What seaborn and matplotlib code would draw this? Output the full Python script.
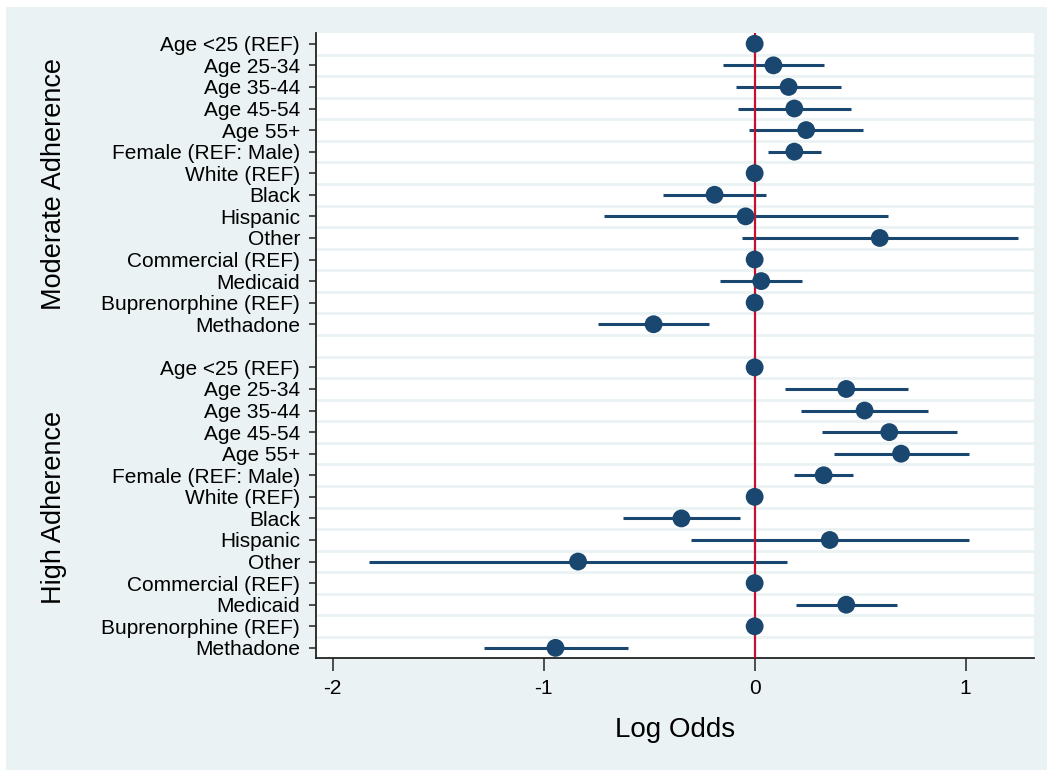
import numpy as np
import pandas as pd
import matplotlib
matplotlib.use("Agg")
import matplotlib.pyplot as plt
import matplotlib.transforms as mtransforms
from matplotlib.patches import Rectangle
import seaborn as sns

# Covariate labels (same for both outcome models)
labels = ["Age <25 (REF)", "Age 25-34", "Age 35-44", "Age 45-54", "Age 55+",
          "Female (REF: Male)", "White (REF)", "Black", "Hispanic", "Other",
          "Commercial (REF)", "Medicaid", "Buprenorphine (REF)", "Methadone"]

groups = ["Moderate Adherence", "High Adherence"]

# Log-odds estimates and 95% CI bounds
moderate_coef = [0, 0.089, 0.161, 0.188, 0.244, 0.188, 0, -0.190, -0.043, 0.593, 0, 0.031, 0, -0.479]
moderate_lo = [0, -0.148, -0.087, -0.081, -0.027, 0.063, 0, -0.434, -0.714, -0.058, 0, -0.166, 0, -0.743]
moderate_hi = [0, 0.327, 0.409, 0.459, 0.515, 0.313, 0, 0.054, 0.631, 1.246, 0, 0.226, 0, -0.215]

high_coef = [0, 0.434, 0.521, 0.638, 0.694, 0.327, 0, -0.347, 0.356, -0.837, 0, 0.434, 0, -0.944]
high_lo = [0, 0.145, 0.219, 0.320, 0.376, 0.188, 0, -0.626, -0.304, -1.828, 0, 0.197, 0, -1.282]
high_hi = [0, 0.725, 0.823, 0.957, 1.016, 0.465, 0, -0.069, 1.016, 0.154, 0, 0.673, 0, -0.602]

xticks = [-2, -1, 0, 1]

NAVY = "#1a476f"
RED = "#c8102e"
BG = "#eaf2f3"

# Long table: one row per coefficient, slot position along the y axis
rows = []
n = len(labels)
for g, (coef, lo, hi) in enumerate([(moderate_coef, moderate_lo, moderate_hi),
                                     (high_coef, high_lo, high_hi)]):
    for i, lab in enumerate(labels):
        rows.append({"group": groups[g], "label": lab, "coef": coef[i],
                     "lo": lo[i], "hi": hi[i], "pos": g * (n + 1) + i})
df = pd.DataFrame(rows)

sns.set_theme(style="white")
plt.rcParams["font.family"] = ["Liberation Sans", "DejaVu Sans"]
plt.rcParams["text.color"] = "black"
plt.rcParams["axes.labelcolor"] = "black"
plt.rcParams["xtick.color"] = "black"
plt.rcParams["ytick.color"] = "black"

fig = plt.figure(figsize=(10.47, 7.7), dpi=100, facecolor="white")
# graph region background (white strip along top and left edges)
fig.patches.append(Rectangle((6 / 1047, 0), 1, 1 - 7 / 770, transform=fig.transFigure,
                             facecolor=BG, edgecolor="none", zorder=-10))

ax = fig.add_axes([316 / 1047, 1 - 658 / 770, 718 / 1047, 625 / 770])
ax.set_facecolor("white")

# grid stripes between rows
for k in range(2 * n):
    ax.axhline(k + 0.5, color=BG, lw=2.0, zorder=0.5)

# confidence intervals
ci = df[df["hi"] > df["lo"]]
ax.hlines(ci["pos"], ci["lo"], ci["hi"], color=NAVY, lw=2.2, zorder=2)

# reference line at zero
ax.axvline(0, color=RED, lw=1.6, zorder=3)

# point estimates
sns.scatterplot(data=df, x="coef", y="pos", ax=ax, color=NAVY, s=165,
                edgecolor="none", zorder=4, legend=False)

ax.set_xlim(-2.079, 1.324)
ax.set_ylim(2 * n + 0.47, -0.5)
ax.set_xticks(xticks)
ax.set_xticklabels([str(t) for t in xticks])
ax.set_yticks(df["pos"])
ax.set_yticklabels(df["label"])
ax.tick_params(axis="y", direction="out", length=5, width=1.1, color="#222222",
               labelsize=15, pad=6.5, left=True)
ax.tick_params(axis="x", direction="out", length=9, width=1.1, color="#222222",
               labelsize=15, pad=6, bottom=True)
ax.set_xlabel("Log Odds", fontsize=20, labelpad=14)
ax.set_ylabel("")

for side in ["top", "right"]:
    ax.spines[side].set_visible(False)
for side in ["left", "bottom"]:
    ax.spines[side].set_color("#222222")
    ax.spines[side].set_linewidth(1.3)

# outcome titles on the left
trans = mtransforms.blended_transform_factory(ax.transAxes, ax.transData)
for g, name in enumerate(groups):
    center = g * (n + 1) + (n - 1) / 2
    ax.text(-0.365, center, name, transform=trans, rotation=90, fontsize=19.5,
            ha="center", va="center")

fig.savefig("out.png", dpi=100, facecolor=fig.get_facecolor())
